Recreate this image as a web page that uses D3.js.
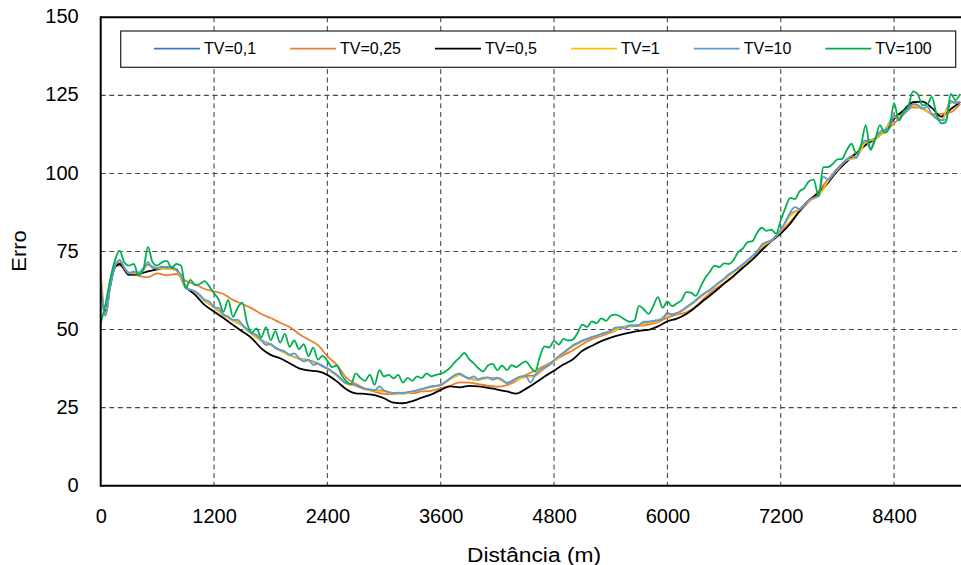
<!DOCTYPE html>
<html>
<head>
<meta charset="utf-8">
<script src="https://cdn.jsdelivr.net/npm/d3@7/dist/d3.min.js"></script>
<style>
  html, body { margin: 0; padding: 0; background: #fff; }
  svg { display: block; font-family: "Liberation Sans", Arial, Helvetica, sans-serif; }
</style>
</head>
<body>
<svg id="chart" width="961" height="565"></svg>
<script>
// Distances (m): coarse sampling for the smoother runs, 50 m sampling for the noisier ones
const distCoarse = [0, 50, 100, 150].concat(d3.range(200, 9101, 100));
const distFine = d3.range(0, 9101, 50);

const xTicks = [0, 1200, 2400, 3600, 4800, 6000, 7200, 8400];
const yTicks = [0, 25, 50, 75, 100, 125, 150];

const seriesNames = ["TV=0,1", "TV=0,25", "TV=0,5", "TV=1", "TV=10", "TV=100"];

// Erro per run (coarse grid)
const tv01 = [64.5, 54.5, 63.6, 70, 71.8,
  68.2, 68.2, 70.8, 69.6, 69.6, 69, 63.4, 62, 59.3, 57.1,
  54.8, 53, 51.4, 48.7, 46.6, 45.2, 43.4, 41.9, 40.7, 40.2,
  39.1, 37.5, 35.4, 32.8, 32.1, 31, 30.6, 30.4, 29.6, 29.6,
  30.1, 30.9, 31.7, 32.2, 34.2, 35.6, 34.3, 34, 34.5, 34.4,
  33, 34.2, 35, 35.3, 37.7, 40, 42.5, 44.8, 46.4, 47.5,
  48.5, 49.5, 50.6, 51.2, 51.4, 52.3, 52.9, 54.8, 55.2, 57,
  59.2, 61.6, 63.8, 66.1, 68.5, 70.8, 73.4, 76.8, 78.5, 81.8,
  86.8, 88.5, 91.3, 93, 97.6, 101.3, 104.3, 105.2, 110.2, 111.2,
  113.8, 118.2, 119, 122.1, 120.8, 119, 117.1, 122.8, 122.9];

const tv025 = [67, 54.5, 64, 70.5, 70.5,
  68, 67.2, 66.8, 68, 67.4, 67.8, 65.6, 64.5, 63, 62.2,
  61.4, 59.5, 58.2, 56.8, 55, 53.7, 52.2, 50.8, 48.6, 46.8,
  45, 41.5, 38.7, 34.6, 32.6, 31.1, 30.1, 29.4, 29.3, 29.8,
  29.6, 30.2, 30.4, 31.2, 32, 33.1, 33, 32.5, 32, 31.7,
  32.2, 33.6, 35.4, 36.9, 38.4, 40, 41.8, 43.4, 45.3, 46.9,
  48, 49, 50.4, 51, 51.2, 51.6, 52.4, 53.8, 54.8, 55.5,
  57.4, 60.3, 62.8, 64.8, 66.9, 70.4, 73, 76, 78.3, 81.2,
  84.5, 87.8, 91, 94.4, 98, 101.6, 104.5, 106.6, 109, 110.9,
  113.5, 116, 119.1, 121.2, 121, 119, 119.1, 119.6, 122.3];

const tv05 = [63, 56, 64, 70, 71,
  67.5, 67.8, 68.6, 69.3, 69.9, 69.3, 63.8, 61.1, 57.9, 55.8,
  53.7, 51.5, 49.4, 47.2, 44, 41.9, 40.8, 39.2, 37.6, 36.9,
  36.6, 35.5, 33.4, 30.9, 29.6, 29.4, 29, 28, 26.6, 26.4,
  27.1, 28.2, 29.2, 30.7, 31.8, 31.5, 32, 31.8, 31.3, 30.8,
  30.2, 29.5, 31, 32.9, 35, 36.8, 38.8, 40.5, 43.2, 44.8,
  46.3, 47.4, 48.3, 49, 49.6, 49.9, 51, 52.6, 53.5, 55,
  57.2, 59.7, 62.1, 64.7, 67.2, 69.8, 72.4, 75.4, 78.3, 80.7,
  83.9, 88, 91.5, 93.7, 97, 100.8, 103.8, 106.4, 109.2, 111.2,
  113.6, 117.5, 120.2, 122.8, 123, 121, 118.2, 120.6, 122.9];

const tv1 = [68.5, 55.2, 64, 70.3, 71.9,
  68, 68, 70.5, 69.5, 69.5, 69, 63.6, 62.1, 59.4, 57,
  54.6, 52.8, 51.2, 48.5, 46.4, 45, 43.2, 41.7, 40.6, 40,
  38.9, 37.4, 35.2, 32.7, 32, 30.8, 30.4, 30.2, 29.5, 29.5,
  30, 30.8, 31.6, 32.1, 34, 35.4, 34.2, 33.9, 34.4, 34.3,
  32.9, 34, 34.8, 35.2, 37.6, 39.8, 42.4, 44.6, 46.2, 47.4,
  48.4, 49.4, 50.5, 51.1, 51.3, 52.2, 52.8, 54.6, 55.1, 56.9,
  59.1, 61.5, 63.7, 66, 68.4, 70.7, 73.3, 76.6, 78.4, 81.6,
  86.5, 88.4, 91.2, 92.9, 97.5, 101.2, 104.2, 105.1, 110, 111.1,
  113.7, 118, 118.9, 122, 120.7, 118.9, 117, 122.7, 122.8];

// Erro per run (fine grid)
const tv10 = [65.4, 54.7, 63.8, 70.2, 72.3, 69.7, 68, 68.6, 68, 69.1,
  71.6, 69.7, 69.7, 70.2, 69.7, 70.2, 69.1, 67.5, 63.3, 62.7,
  62.2, 61.1, 59.5, 59, 57.2, 56.9, 54.7, 54.2, 53.1, 53.1,
  51.5, 49.9, 48.8, 48.3, 46.7, 45.1, 45.4, 44, 43.5, 43,
  41.9, 42.4, 40.8, 39.8, 40.3, 38.7, 39.2, 38.2, 37.6, 36.5,
  35.5, 34, 32.8, 32.5, 32.2, 31.5, 31, 30.8, 30.5, 31.8,
  30.5, 30, 29.6, 29.8, 29.6, 30, 30.2, 30.5, 31, 31.4,
  31.8, 32, 32.3, 33.3, 34.4, 35.5, 36, 35, 34.4, 35,
  34, 34.6, 34.7, 33.9, 34.6, 34, 32.8, 33.4, 34.4, 35,
  35.2, 33, 35.5, 37, 37.8, 38.6, 40.2, 41.5, 42.6, 43.8,
  45, 45.6, 46.5, 47, 47.6, 48, 48.6, 49, 49.6, 50.6,
  50.8, 50.4, 51.4, 51.2, 51.5, 52.5, 52.5, 52.8, 53, 53.3,
  55.5, 54.6, 55.3, 56, 57.2, 58.2, 59.4, 60.8, 61.8, 62.6,
  64, 65.2, 66.3, 67.7, 68.6, 69.8, 71, 72.2, 73.6, 74.9,
  77.2, 78, 78.6, 80, 82, 84.5, 87.5, 89.2, 88.6, 89.8,
  91.5, 92.2, 93, 99, 98, 99.5, 101.5, 103, 104.5, 105.5,
  105, 109, 110.6, 108, 111.3, 113.3, 114, 114.5, 118.6, 117,
  119, 120.5, 122.3, 122, 120.8, 121.3, 119, 117.5, 117, 117.3,
  123.2, 122.5, 123];

const tv100 = [52, 58, 66, 72, 75.3, 71.5, 70.5, 71, 67.5, 69,
  76.5, 71.5, 70.5, 71.6, 72, 69.8, 71, 70.5, 63.2, 65.9,
  64.2, 64.6, 65.5, 63.8, 61.6, 59.6, 55.7, 59.5, 54.1, 57,
  58.6, 52, 49, 50.4, 47.5, 50.8, 46.6, 49.5, 45.8, 48.6,
  44.5, 46.5, 43.7, 45.3, 41.5, 44.2, 40.4, 41.6, 40, 38,
  38.5, 35.5, 33.5, 32.5, 36, 34.5, 33.6, 35.6, 32.3, 37,
  35, 35.5, 34.4, 35.5, 33, 34.5, 33.6, 35, 34.5, 36,
  35, 35.5, 35.8, 36.6, 37.8, 39.6, 41, 42.5, 40.5, 39.2,
  37.6, 36.6, 38.5, 39, 37, 38.5, 37, 38.6, 38, 39,
  39.8, 38, 36.5, 41.3, 44.6, 44.3, 46.4, 45.2, 47, 46.5,
  46.8, 49, 51.6, 50.8, 52.6, 52, 53.6, 52.8, 54.4, 54.8,
  54.2, 53.2, 52.5, 52.9, 57.6, 56.5, 55, 57.5, 60.4, 57,
  59, 57.5, 58.4, 59.4, 62, 61.8, 60.8, 63.6, 66.5, 68.5,
  70.5, 70, 71.2, 71, 72.3, 74.8, 76, 78, 78.3, 81,
  82.6, 81.6, 82, 80.7, 85, 89, 92.2, 91.8, 94.3, 95.3,
  97.5, 98, 92.6, 102, 102, 103, 104.5, 104.7, 107.5, 109.5,
  106.3, 109, 115.5, 107.5, 110.8, 115.5, 113, 114.5, 122.5, 117,
  119.8, 121.4, 126.3, 125.5, 121.8, 122, 124.5, 118.8, 116, 116.5,
  125.5, 123.5, 125.5];

const seriesColors = ["#4472C4", "#ED7D31", "#000000", "#FFC000", "#5B9BD5", "#00B050"];

const series = [
  { name: seriesNames[0], dist: distCoarse, values: tv01 },
  { name: seriesNames[1], dist: distCoarse, values: tv025 },
  { name: seriesNames[2], dist: distCoarse, values: tv05 },
  { name: seriesNames[3], dist: distCoarse, values: tv1 },
  { name: seriesNames[4], dist: distFine, values: tv10 },
  { name: seriesNames[5], dist: distFine, values: tv100 }
].map((s, i) => ({ ...s, color: seriesColors[i], points: s.dist.map((d, j) => [d, s.values[j]]) }));

// Plot area
const svg = d3.select("#chart");
const plotL = 100.7, plotR = 964.9, plotT = 17.3, plotB = 485.7, viewR = 961;

const x = d3.scaleLinear().domain([0, 9150]).range([plotL, plotR]);
const y = d3.scaleLinear().domain([0, 150]).range([plotB, plotT]);

svg.append("defs").append("clipPath").attr("id", "plotClip")
  .append("rect").attr("x", plotL).attr("y", plotT - 2).attr("width", viewR - plotL).attr("height", plotB - plotT + 4);

// Dashed grid
const grid = svg.append("g").attr("stroke", "#4a4a4a").attr("stroke-width", 1.1).attr("stroke-dasharray", "5,3.6");
grid.selectAll("line.h").data(yTicks.filter(v => v > 0 && v < 150)).join("line")
  .attr("class", "h")
  .attr("x1", plotL).attr("x2", viewR)
  .attr("y1", d => y(d)).attr("y2", d => y(d));
grid.selectAll("line.v").data(xTicks.filter(v => v > 0)).join("line")
  .attr("class", "v")
  .attr("x1", d => x(d)).attr("x2", d => x(d))
  .attr("y1", plotT).attr("y2", plotB);

// Series lines
const line = d3.line().x(d => x(d[0])).y(d => y(d[1])).curve(d3.curveMonotoneX);
svg.append("g").attr("clip-path", "url(#plotClip)")
  .selectAll("path").data(series).join("path")
  .attr("d", d => line(d.points))
  .attr("fill", "none")
  .attr("stroke", d => d.color)
  .attr("stroke-width", 1.8)
  .attr("stroke-linejoin", "round");

// Frame lines
svg.append("line").attr("x1", plotL).attr("x2", viewR).attr("y1", plotT).attr("y2", plotT)
  .attr("stroke", "#000").attr("stroke-width", 2);
svg.append("line").attr("x1", plotL).attr("x2", viewR).attr("y1", plotB).attr("y2", plotB)
  .attr("stroke", "#000").attr("stroke-width", 2);
svg.append("line").attr("x1", plotL).attr("x2", plotL).attr("y1", plotT - 1).attr("y2", plotB + 1)
  .attr("stroke", "#000").attr("stroke-width", 2);

// Axes (labels only)
const yAxis = svg.append("g").attr("transform", `translate(${plotL},0)`)
  .call(d3.axisLeft(y).tickValues(yTicks).tickSize(0).tickPadding(22).tickFormat(d3.format("d")));
const xAxis = svg.append("g").attr("transform", `translate(0,${plotB})`)
  .call(d3.axisBottom(x).tickValues(xTicks).tickSize(0).tickPadding(23.5).tickFormat(d3.format("d")));
[yAxis, xAxis].forEach(g => {
  g.select(".domain").remove();
  g.selectAll("text").attr("font-size", 20).attr("fill", "#000")
    .attr("font-family", "'Liberation Sans', Arial, Helvetica, sans-serif");
});
yAxis.selectAll("text").attr("dy", "0.28em");

// Axis titles
svg.append("text")
  .attr("x", 534).attr("y", 561.5)
  .attr("text-anchor", "middle")
  .attr("font-size", 20)
  .attr("textLength", 134).attr("lengthAdjust", "spacingAndGlyphs")
  .text("Distância (m)");
svg.append("text")
  .attr("transform", "translate(25.5,251) rotate(-90)")
  .attr("text-anchor", "middle")
  .attr("font-size", 20)
  .attr("textLength", 41.5).attr("lengthAdjust", "spacingAndGlyphs")
  .text("Erro");

// Legend
const legend = svg.append("g");
legend.append("rect")
  .attr("x", 120.7).attr("y", 31).attr("width", 835).attr("height", 36.3)
  .attr("fill", "#fff").attr("stroke", "#222").attr("stroke-width", 1.2);
let lx = 154;
const ly = 48.7;
series.forEach(s => {
  legend.append("line")
    .attr("x1", lx).attr("x2", lx + 46).attr("y1", ly).attr("y2", ly)
    .attr("stroke", s.color).attr("stroke-width", 1.8);
  const t = legend.append("text")
    .attr("x", lx + 50).attr("y", ly).attr("dy", "0.36em")
    .attr("font-size", 16).attr("fill", "#000")
    .text(s.name);
  lx += 50 + t.node().getComputedTextLength() + 34;
});
</script>
</body>
</html>
